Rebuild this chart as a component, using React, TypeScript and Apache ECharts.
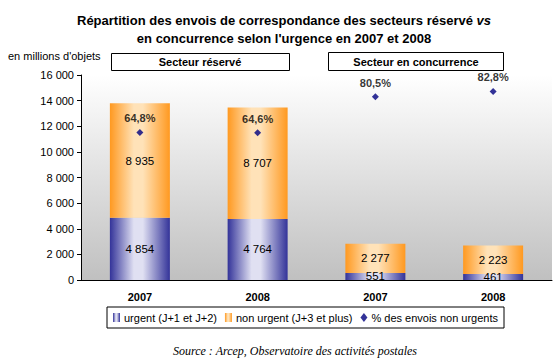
import React, { useEffect, useRef } from "react";
import * as echarts from "echarts";

const categories = ["2007", "2008", "2007", "2008"];
const urgent = [4854, 4764, 551, 461];
const nonUrgent = [8935, 8707, 2277, 2223];
const pctNonUrgent = [64.8, 64.6, 80.5, 82.8];
const yTicks = { min: 0, max: 16000, interval: 2000 };
const sectorLabels = ["Secteur réservé", "Secteur en concurrence"];

const fmt = (v: number) => String(v).replace(/\B(?=(\d{3})+(?!\d))/g, " ");
const FONT = "Arial, 'Liberation Sans', sans-serif";

const grad = (dark: string, light: string) =>
  new echarts.graphic.LinearGradient(0, 0, 1, 0, [
    { offset: 0, color: dark },
    { offset: 0.4, color: light },
    { offset: 0.55, color: light },
    { offset: 1, color: dark },
  ]);

export default function App() {
  const ref = useRef<HTMLDivElement>(null);
  useEffect(() => {
    if (!ref.current) return;
    const chart = echarts.init(ref.current, null, { renderer: "svg" });
    chart.setOption({
      animation: false,
      backgroundColor: "#ffffff",
      textStyle: { fontFamily: FONT },
      grid: {
        left: 81,
        right: 8,
        top: 75,
        bottom: 83,
        show: true,
        borderWidth: 0,
        backgroundColor: new echarts.graphic.LinearGradient(0, 0, 0, 1, [
          { offset: 0, color: "#ffffff" },
          { offset: 1, color: "#c0c0c0" },
        ]),
      },
      legend: {
        left: 107,
        top: 307,
        padding: [5, 6],
        itemWidth: 7,
        itemHeight: 9,
        itemGap: 8,
        borderColor: "#000",
        borderWidth: 1,
        borderRadius: 0,
        textStyle: { fontSize: 11, color: "#000", fontFamily: FONT, padding: [0, 0, 0, -1] },
        data: [
          { name: "urgent (J+1 et J+2)", icon: "rect" },
          { name: "non urgent (J+3 et plus)", icon: "rect" },
          { name: "% des envois non urgents", icon: "diamond" },
        ],
      },
      xAxis: {
        type: "category",
        data: categories,
        axisLine: { lineStyle: { color: "#000", width: 1 } },
        axisTick: { length: 5, lineStyle: { color: "#000" } },
        axisLabel: { fontSize: 11, fontWeight: "bold", color: "#000", margin: 11, fontFamily: FONT },
      },
      yAxis: [
        {
          type: "value",
          min: yTicks.min,
          max: yTicks.max,
          interval: yTicks.interval,
          splitLine: { show: false },
          axisLine: { show: true, lineStyle: { color: "#000" } },
          axisTick: { show: true, length: 4, lineStyle: { color: "#000" } },
          axisLabel: { fontSize: 11, color: "#000", margin: 7, formatter: (v: number) => fmt(v), fontFamily: FONT },
        },
        { type: "value", min: 0, max: 90, show: false, splitLine: { show: false } },
      ],
      series: [
        {
          name: "urgent (J+1 et J+2)",
          type: "bar",
          stack: "total",
          barWidth: 60,
          data: urgent,
          itemStyle: { color: grad("#333399", "#e0e0f2") },
          label: { show: true, position: "inside", fontSize: 11.5, color: "#000", formatter: (p: any) => fmt(p.value), fontFamily: FONT },
        },
        {
          name: "non urgent (J+3 et plus)",
          type: "bar",
          stack: "total",
          barWidth: 60,
          data: nonUrgent,
          itemStyle: { color: grad("#ff9920", "#ffe2b8") },
          label: { show: true, position: "inside", fontSize: 11.5, color: "#000", formatter: (p: any) => fmt(p.value), fontFamily: FONT },
        },
        {
          name: "% des envois non urgents",
          type: "scatter",
          yAxisIndex: 1,
          symbol: "diamond",
          symbolSize: 7,
          data: pctNonUrgent,
          itemStyle: { color: "#000080" },
          label: {
            show: true,
            position: "top",
            distance: 5,
            fontSize: 11,
            fontWeight: "bold",
            color: "#000",
            fontFamily: FONT,
            formatter: (p: any) => String(p.value).replace(".", ",") + "%",
          },
        },
      ],
      graphic: [
        {
          type: "text",
          x: 284,
          y: 11,
          style: {
            text: "Répartition des envois de correspondance des secteurs réservé {i|vs}\nen concurrence selon l'urgence en 2007 et 2008",
            font: `bold 13px ${FONT}`,
            fill: "#000",
            align: "center",
            lineHeight: 18,
            rich: { i: { fontStyle: "italic", fontWeight: "bold", fontSize: 13, fontFamily: FONT } },
          },
        },
        {
          type: "text",
          x: 8,
          y: 50,
          style: { text: "en millions d'objets", font: `11px ${FONT}`, fill: "#000" },
        },
        {
          type: "rect",
          shape: { x: 111.5, y: 53.5, width: 178, height: 17 },
          style: { fill: "#fff", stroke: "#000", lineWidth: 1 },
        },
        {
          type: "text",
          x: 200,
          y: 56,
          style: { text: sectorLabels[0], font: `bold 11px ${FONT}`, fill: "#000", align: "center" },
        },
        {
          type: "rect",
          shape: { x: 328.5, y: 52.5, width: 175, height: 18 },
          style: { fill: "#fff", stroke: "#000", lineWidth: 1 },
        },
        {
          type: "text",
          x: 416,
          y: 56,
          style: { text: sectorLabels[1], font: `bold 11px ${FONT}`, fill: "#000", align: "center" },
        },
        {
          type: "text",
          x: 295,
          y: 345,
          style: {
            text: "Source : Arcep, Observatoire des activités postales",
            font: `italic 12px 'Times New Roman', 'Liberation Serif', serif`,
            fill: "#000",
            align: "center",
          },
        },
      ],
    });
    return () => chart.dispose();
  }, []);
  return <div ref={ref} style={{ width: 560, height: 363, position: "absolute", left: 0, top: 0 }} />;
}
